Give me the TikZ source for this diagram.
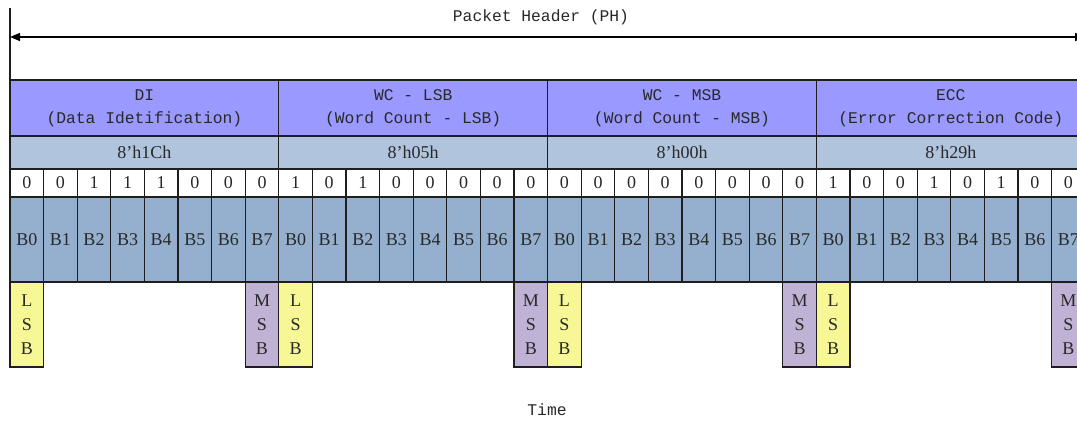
\documentclass[tikz,border=0pt]{standalone}
\usepackage{fontspec}
\setmainfont{Liberation Serif}
\setmonofont{Liberation Mono}
\usetikzlibrary{arrows.meta}
\definecolor{hdrc}{RGB}{153,153,255}
\definecolor{hexc}{RGB}{176,196,222}
\definecolor{bitc}{RGB}{149,176,206}
\definecolor{lsbc}{RGB}{247,247,150}
\definecolor{msbc}{RGB}{192,178,212}
\definecolor{txt}{RGB}{40,40,40}
\definecolor{edge}{RGB}{30,30,30}
\tikzset{
  cell/.style={draw=edge, line width=1.2pt, inner sep=0pt, outer sep=0pt, text=txt},
  hdrbox/.style={cell, fill=hdrc, minimum width=268.8pt, minimum height=56pt, align=center,
    font=\ttfamily\fontsize{16.3}{23}\selectfont},
  hexbox/.style={cell, fill=hexc, minimum width=268.8pt, minimum height=33pt,
    font=\fontsize{18}{20}\selectfont},
  valbox/.style={cell, fill=white, minimum width=33.6pt, minimum height=28pt,
    font=\fontsize{18}{20}\selectfont},
  bbox/.style={cell, fill=bitc, minimum width=33.6pt, minimum height=85pt,
    font=\fontsize{18}{20}\selectfont},
  sbbox/.style={cell, minimum width=33.6pt, minimum height=85pt, align=center,
    font=\fontsize{18}{24}\selectfont},
  lbl/.style={text=txt, inner sep=0pt, font=\ttfamily\fontsize{16.3}{20}\selectfont},
  dim/.style={draw=black, line width=1.2pt, {Triangle[length=10pt,width=8pt]}-{Triangle[length=10pt,width=8pt]}}
}
\begin{document}
\begin{tikzpicture}[x=1pt,y=-1pt]
\useasboundingbox (0,0) rectangle (1077,421);
\clip (0,0) rectangle (1077,421);
% title and dimension arrow
\node[lbl] (ph) at (541,17) {Packet Header (PH)};
\coordinate (vt) at (10,8);
\coordinate (vb) at (10,80);
\draw[draw=edge, line width=1.2pt] (vt) -- (vb);
\coordinate (al) at (10,37);
\coordinate (ar) at (1085.2,37);
\draw[dim] (al) -- (ar);
% header row
\node[hdrbox, anchor=north west] (h0) at (10,80) {DI\\(Data Idetification)};
\node[hdrbox, anchor=north west] (h1) at (278.8,80) {WC - LSB\\(Word Count - LSB)};
\node[hdrbox, anchor=north west] (h2) at (547.6,80) {WC - MSB\\(Word Count - MSB)};
\node[hdrbox, anchor=north west] (h3) at (816.4,80) {ECC\\(Error Correction Code)};
% hex row
\foreach \t [count=\k from 0] in {8’h1Ch,8’h05h,8’h00h,8’h29h}{
  \node[hexbox, anchor=north west] (x\k) at ({10+268.8*\k},136) {\t};
}
% bit values
\foreach \v [count=\i from 0] in {0,0,1,1,1,0,0,0,1,0,1,0,0,0,0,0,0,0,0,0,0,0,0,0,1,0,0,1,0,1,0,0}{
  \node[valbox, anchor=north west] (v\i) at ({10+33.6*\i},169) {\v};
}
% bit names
\foreach \i in {0,...,31}{
  \pgfmathtruncatemacro{\b}{mod(\i,8)}
  \node[bbox, anchor=north west] (b\i) at ({10+33.6*\i},197) {B\b};
}
% LSB / MSB markers
\foreach \k in {0,...,3}{
  \node[sbbox, fill=lsbc, anchor=north west] (l\k) at ({10+268.8*\k},282) {L\\S\\B};
  \node[sbbox, fill=msbc, anchor=north west] (m\k) at ({10+268.8*\k+235.2},282) {M\\S\\B};
}
\node[lbl] (time) at (547,410) {Time};
\end{tikzpicture}
\end{document}
